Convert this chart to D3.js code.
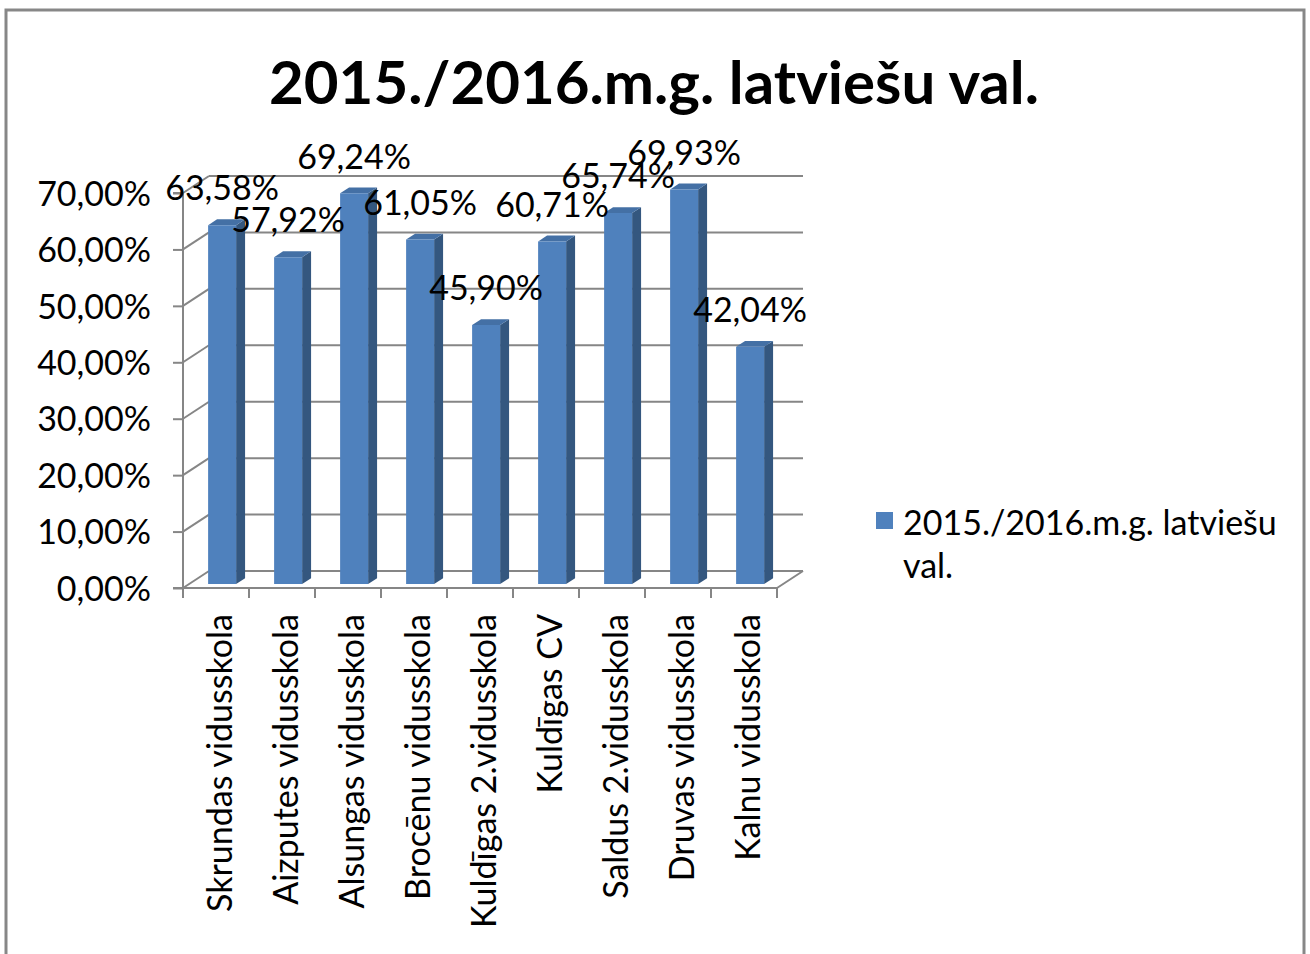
<!DOCTYPE html>
<html>
<head>
<meta charset="utf-8">
<script src="https://cdn.jsdelivr.net/npm/d3@7"></script>
<style>
  body { margin: 0; background: #fff; }
  svg { display: block; font-family: Lato, "Open Sans", sans-serif; }
</style>
</head>
<body>
<svg id="chart" width="1310" height="954"></svg>
<script>
const title = "2015./2016.m.g. latviešu val.";
const seriesName = "2015./2016.m.g. latviešu val.";
const schools = [
  "Skrundas vidusskola",
  "Aizputes vidusskola",
  "Alsungas vidusskola",
  "Brocēnu vidusskola",
  "Kuldīgas 2.vidusskola",
  "Kuldīgas CV",
  "Saldus 2.vidusskola",
  "Druvas vidusskola",
  "Kalnu vidusskola",
];
const results = [0.6358, 0.5792, 0.6924, 0.6105, 0.459, 0.6071, 0.6574, 0.6993, 0.4204];
const yTicks = [0, 0.1, 0.2, 0.3, 0.4, 0.5, 0.6, 0.7];

const svg = d3.select("#chart");
const locale = d3.formatLocale({ decimal: ",", thousands: " ", grouping: [3], currency: ["", "€"] });
const pct = locale.format(".2%");

/** frame */
svg.append("rect")
  .attr("x", 6).attr("y", 10).attr("width", 1298).attr("height", 980)
  .attr("fill", "#fff").attr("stroke", "#878787").attr("stroke-width", 3);

/** title */
svg.append("text")
  .text(title)
  .attr("x", 654).attr("y", 104)
  .attr("text-anchor", "middle")
  .attr("font-weight", "bold")
  .attr("font-size", 60)
  .attr("fill", "#000");

/** scales (front plane) */
const x = d3.scaleBand().domain(schools).range([183, 777]).padding(0);
const y = d3.scaleLinear().domain([0, 0.7]).range([588, 193]);

/** depth of the 3d box */
const DX = 26, DY = -17;
const P = (px, v, d) => [px + DX * d, y(v) + DY * d];
const grid = "#868686";

/** back wall gridlines and side wall diagonals */
for (const t of yTicks) {
  const [bx0, by] = P(x.range()[0], t, 1);
  const [bx1] = P(x.range()[1], t, 1);
  svg.append("line")
    .attr("x1", bx0).attr("x2", bx1).attr("y1", by).attr("y2", by)
    .attr("stroke", grid).attr("stroke-width", 2);
  svg.append("line")
    .attr("x1", x.range()[0]).attr("y1", y(t))
    .attr("x2", bx0).attr("y2", by)
    .attr("stroke", grid).attr("stroke-width", 2);
}

/** floor right diagonal */
{
  const [fx, fy] = P(x.range()[1], 0, 1);
  svg.append("line")
    .attr("x1", x.range()[1]).attr("y1", y(0))
    .attr("x2", fx).attr("y2", fy)
    .attr("stroke", grid).attr("stroke-width", 2);
}

/** axes */
const yAxis = d3.axisLeft(y).tickValues(yTicks).tickSize(10).tickFormat(pct);
const gy = svg.append("g").attr("transform", `translate(${x.range()[0]},0)`).call(yAxis);
gy.select(".domain").attr("stroke", grid).attr("stroke-width", 2).attr("d", `M-10,${y(0.7)}H0V${y(0)}H-10`);
gy.selectAll(".tick line").attr("stroke", grid).attr("stroke-width", 2);
gy.selectAll(".tick text")
  .attr("x", -32).attr("dy", "0.36em")
  .attr("font-size", 34).attr("font-family", "Lato").attr("fill", "#000");

svg.append("line")
  .attr("x1", x.range()[0]).attr("x2", x.range()[1])
  .attr("y1", y(0)).attr("y2", y(0))
  .attr("stroke", grid).attr("stroke-width", 2);
for (const px of [...schools.map((s) => x(s)), x.range()[1]])
  svg.append("line")
    .attr("x1", px).attr("x2", px)
    .attr("y1", y(0)).attr("y2", y(0) + 10)
    .attr("stroke", grid).attr("stroke-width", 2);

/** 3d bars */
const D0 = 0.235, D1 = 0.58, W = 28;
const poly = (pts) => "M" + pts.map((p) => p.join(",")).join("L") + "Z";
const bars = svg.append("g");
schools.forEach((s, i) => {
  const v = results[i];
  const l = x(s) + (x.bandwidth() - W) / 2, r = l + W;
  const g = bars.append("g");
  g.append("path")
    .attr("d", poly([P(r, v, D0), P(r, v, D1), P(r, 0, D1), P(r, 0, D0)]))
    .attr("fill", "#34577f");
  g.append("path")
    .attr("d", poly([P(l, v, D0), P(r, v, D0), P(r, v, D1), P(l, v, D1)]))
    .attr("fill", "#4470a5");
  g.append("path")
    .attr("d", poly([P(l, v, D0), P(r, v, D0), P(r, 0, D0), P(l, 0, D0)]))
    .attr("fill", "#4f81bd");
});

/** value labels */
schools.forEach((s, i) => {
  const v = results[i];
  const [cx, top] = P(x(s) + x.bandwidth() / 2, v, D0);
  svg.append("text")
    .text(pct(v))
    .attr("x", cx).attr("y", top - 37)
    .attr("dy", "0.36em")
    .attr("text-anchor", "middle")
    .attr("font-size", 34)
    .attr("fill", "#000");
});

/** category labels */
schools.forEach((s) => {
  const cx = x(s) + x.bandwidth() / 2 + 4;
  svg.append("text")
    .text(s)
    .attr("transform", `translate(${cx},614) rotate(-90)`)
    .attr("text-anchor", "end")
    .attr("dy", "0.36em")
    .attr("font-size", 34)
    .attr("fill", "#000");
});

/** legend */
svg.append("rect")
  .attr("x", 876).attr("y", 512).attr("width", 17).attr("height", 17)
  .attr("fill", "#4f81bd");
const legendText = svg.append("text")
  .attr("x", 903).attr("y", 535)
  .attr("font-size", 34).attr("fill", "#000");
legendText.append("tspan").attr("x", 903).text("2015./2016.m.g. latviešu");
legendText.append("tspan").attr("x", 903).attr("dy", 43).text("val.");
</script>
</body>
</html>
